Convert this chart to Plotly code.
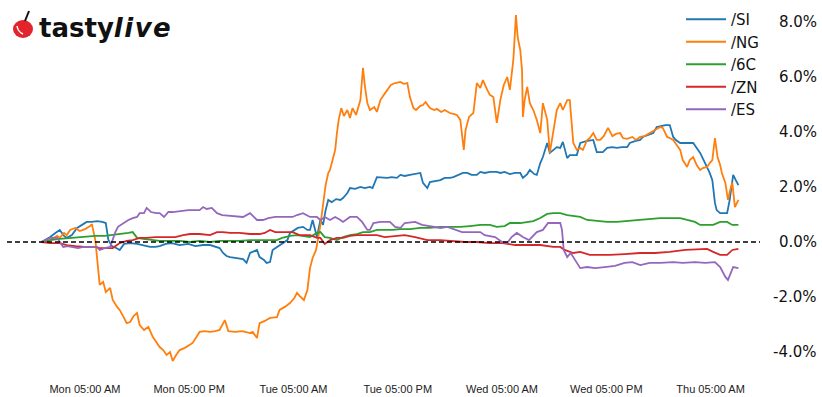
import pandas as pd
import plotly.graph_objects as go

# ---------------- data (hours since Monday 00:00, % change) ----------------
si_hours = [0, 1.0, 1.6, 2.1, 2.6, 2.9, 3.5, 4.1, 4.8, 5.2,
            5.8, 6.4, 7.0, 7.4, 7.7, 8.1, 8.6, 9.0, 9.5, 10.2,
            11.0, 11.7, 12.5, 13.1, 13.6, 14.3, 15.0, 15.9, 16.9, 17.7,
            18.6, 19.4, 20.0, 20.5, 20.9, 21.3, 21.7, 22.3, 22.8, 23.2,
            23.6, 24.0, 24.5, 24.8, 25.1, 25.6, 25.9, 26.3, 26.6, 27.1,
            27.7, 28.3, 28.6, 29.1, 29.5, 30.1, 30.6, 30.9, 31.2, 31.7,
            32.1, 32.4, 32.7, 33.0, 33.4, 33.9, 34.4, 34.7, 35.2, 35.5,
            36.1, 36.7, 37.2, 37.8, 38.1, 38.6, 39.3, 39.8, 40.3, 40.9,
            41.3, 41.8, 42.4, 42.9, 43.6, 43.9, 44.4, 44.7, 45.3, 45.9,
            46.4, 47.0, 47.4, 47.9, 48.5, 49.0, 49.5, 50.1, 50.5, 51.0,
            51.6, 52.4, 52.8, 53.3, 53.9, 54.5, 55.1, 55.4, 55.9, 56.2,
            56.7, 57.0, 57.4, 57.7, 58.2, 58.5, 58.9, 59.3, 59.7, 60.0,
            60.5, 60.8, 61.6, 62.0, 62.7, 63.5, 63.9, 64.6, 65.1, 65.7,
            66.2, 66.8, 67.4, 67.7, 68.3, 68.9, 69.2, 69.8, 70.4, 70.8,
            71.3, 71.8, 72.3, 72.7, 73.0, 73.5, 74.2, 75.0, 75.4, 75.8,
            76.2, 76.6, 76.9, 77.2, 77.5, 77.7, 78.1, 78.5, 78.9, 79.2,
            79.6, 79.9, 80.2]
si_pct = [0, 0.18, 0.33, 0.44, 0.22, 0.15, 0.25, 0.51, 0.65, 0.73,
          0.73, 0.76, 0.73, 0.69, 0.07, -0.15, -0.22, -0.29, -0.07, -0.04,
          -0.07, -0.11, -0.18, -0.18, -0.15, -0.07, -0.04, -0.11, -0.07, -0.15,
          -0.11, -0.11, -0.18, -0.22, -0.40, -0.51, -0.55, -0.58, -0.58, -0.62,
          -0.76, -0.40, -0.33, -0.29, -0.55, -0.65, -0.76, -0.73, -0.29, -0.18,
          -0.04, 0.07, 0.33, 0.44, 0.51, 0.55, 0.44, 0.44, 0.80, 0.18,
          0.80, 0.62, 1.16, 1.53, 1.45, 1.56, 1.53, 1.60, 1.78, 1.96,
          1.93, 2.00, 1.96, 2.00, 1.96, 2.36, 2.33, 2.33, 2.36, 2.33,
          2.44, 2.40, 2.44, 2.47, 2.51, 2.15, 1.96, 2.18, 2.22, 2.25,
          2.33, 2.33, 2.36, 2.44, 2.51, 2.51, 2.44, 2.44, 2.55, 2.51,
          2.55, 2.55, 2.51, 2.55, 2.47, 2.51, 2.51, 2.33, 2.47, 2.62,
          2.47, 2.44, 2.87, 3.09, 3.60, 3.24, 3.35, 3.45, 3.42, 3.64,
          3.05, 3.16, 3.16, 3.60, 3.67, 3.71, 3.27, 3.27, 3.42, 3.45,
          3.42, 3.45, 3.45, 3.60, 3.67, 3.71, 3.82, 3.89, 3.96, 4.18,
          4.22, 4.25, 4.25, 3.82, 3.71, 3.60, 3.60, 3.60, 3.42, 3.24,
          2.98, 2.73, 2.51, 2.25, 1.42, 1.16, 1.05, 1.05, 1.05, 1.53,
          2.44, 2.25, 2.07]

ng_hours = [0, 1.0, 1.8, 2.1, 2.6, 2.9, 3.3, 3.9, 4.4, 5.0,
            5.6, 5.8, 6.2, 6.5, 6.7, 7.1, 7.4, 7.9, 8.2, 8.7,
            9.0, 9.5, 9.8, 10.2, 10.6, 11.0, 11.3, 11.8, 12.3, 12.8,
            13.3, 13.6, 14.0, 14.4, 14.8, 15.1, 15.5, 15.9, 16.5, 17.1,
            17.4, 17.9, 18.2, 18.8, 19.4, 20.0, 20.5, 21.1, 21.5, 22.3,
            23.1, 24.0, 24.3, 24.8, 25.1, 25.7, 26.3, 27.1, 27.4, 28.0,
            28.6, 29.1, 29.4, 29.7, 30.2, 30.6, 30.9, 31.2, 31.6, 31.8,
            32.1, 32.4, 32.7, 33.0, 33.2, 33.5, 33.8, 34.0, 34.2, 34.5,
            34.8, 35.2, 35.5, 35.8, 36.2, 36.7, 37.0, 37.2, 37.5, 37.8,
            38.3, 38.6, 39.0, 39.4, 39.8, 40.2, 40.7, 41.3, 41.7, 42.1,
            42.4, 42.8, 43.1, 43.6, 43.9, 44.2, 44.7, 45.2, 45.5, 46.0,
            46.4, 47.0, 47.5, 47.8, 48.2, 48.4, 48.6, 48.8, 49.2, 49.7,
            50.1, 50.5, 50.8, 51.3, 51.6, 52.0, 52.4, 52.8, 53.2, 53.6,
            53.9, 54.3, 54.6, 54.8, 55.1, 55.3, 55.4, 55.6, 55.9, 56.2,
            56.6, 57.0, 57.4, 57.7, 58.2, 58.5, 58.9, 59.3, 59.7, 60.0,
            60.5, 60.8, 61.2, 61.6, 62.0, 62.3, 62.8, 63.1, 63.5, 63.9,
            64.3, 64.7, 65.2, 65.7, 66.1, 66.6, 66.9, 67.4, 68.0, 68.4,
            68.9, 69.4, 70.0, 70.6, 71.2, 71.5, 72.0, 72.3, 72.7, 73.1,
            73.5, 73.8, 74.3, 74.6, 75.0, 75.4, 75.8, 76.1, 76.6, 76.9,
            77.2, 77.5, 77.7, 77.8, 78.1, 78.3, 78.7, 79.0, 79.2, 79.5,
            79.8, 80.2]
ng_pct = [0, 0.07, 0.22, 0.15, 0.33, 0.25, 0.44, 0.51, 0.40, 0.47,
          0.58, 0.65, 0.07, -1.02, -1.56, -1.45, -1.82, -1.67, -2.11, -2.36,
          -2.47, -2.76, -2.95, -2.91, -2.69, -2.58, -3.02, -3.20, -3.09, -3.45,
          -3.67, -3.82, -3.93, -4.11, -4.00, -4.33, -4.11, -3.93, -3.85, -3.75,
          -3.67, -3.42, -3.27, -3.24, -3.27, -3.24, -3.20, -2.84, -3.24, -3.27,
          -3.24, -3.31, -3.27, -3.49, -2.95, -2.87, -2.76, -2.73, -2.47, -2.36,
          -2.22, -2.04, -1.85, -1.96, -2.11, -1.75, -0.95, -0.58, -0.29, 0.07,
          0.62, 1.35, 2.07, 2.51, 2.62, 2.98, 3.35, 3.96, 4.44, 4.87,
          4.58, 4.80, 4.51, 4.87, 4.62, 5.16, 6.33, 5.71, 5.05, 4.80,
          4.91, 4.73, 5.16, 5.35, 5.53, 5.71, 5.78, 5.82, 5.75, 5.78,
          5.27, 4.87, 4.80, 4.95, 4.98, 5.09, 4.87, 4.80, 4.84, 4.73,
          4.80, 4.69, 4.65, 4.62, 4.44, 3.89, 3.35, 4.07, 4.55, 4.69,
          5.78, 5.60, 5.89, 5.53, 5.35, 5.27, 4.33, 5.16, 5.71, 6.00,
          5.53, 6.62, 8.25, 7.45, 6.98, 6.25, 4.55, 5.16, 5.64, 5.05,
          4.80, 4.44, 3.96, 5.05, 4.44, 3.24, 3.96, 4.80, 5.05, 4.80,
          5.16, 5.16, 3.60, 3.35, 3.42, 3.35, 3.71, 3.78, 3.96, 3.71,
          3.71, 3.85, 4.15, 3.85, 3.93, 3.96, 3.78, 3.75, 3.82, 3.71,
          3.82, 3.85, 3.96, 4.07, 4.18, 4.15, 3.82, 3.78, 3.71, 3.53,
          3.35, 2.98, 2.73, 2.98, 3.09, 2.80, 2.62, 2.69, 2.73, 2.87,
          2.98, 3.78, 3.35, 3.09, 2.80, 2.51, 2.15, 1.53, 1.82, 2.15,
          1.27, 1.53]

c6_hours = [0, 1.0, 2.1, 3.3, 4.1, 5.0, 6.2, 7.3, 8.2, 9.0,
            10.0, 10.5, 11.0, 11.7, 12.5, 13.6, 14.8, 15.9, 17.1, 18.2,
            19.4, 20.5, 21.7, 22.8, 24.0, 25.1, 26.3, 27.1, 27.7, 28.6,
            29.4, 30.2, 30.9, 31.7, 32.1, 32.6, 33.2, 34.0, 34.7, 35.5,
            36.3, 37.0, 37.8, 38.6, 39.5, 40.4, 41.3, 42.4, 43.6, 44.7,
            45.9, 47.0, 48.2, 49.3, 50.5, 51.6, 52.4, 53.3, 53.9, 55.1,
            55.9, 56.6, 57.4, 58.2, 58.9, 59.7, 60.5, 61.2, 62.0, 62.8,
            63.9, 65.1, 66.2, 67.4, 68.9, 70.0, 71.2, 72.3, 73.5, 74.3,
            75.2, 75.8, 76.6, 77.3, 78.1, 78.9, 79.5, 80.2]
c6_pct = [0, 0.07, 0.11, 0.15, 0.15, 0.18, 0.22, 0.22, 0.25, 0.29,
          0.33, 0.36, 0.15, 0.11, 0.07, 0.04, 0.04, 0.04, 0, 0.04,
          0, 0.04, 0.04, 0.04, 0.07, 0.07, 0.07, 0.07, 0.15, 0.22,
          0.25, 0.22, 0.18, 0.33, 0.36, 0.18, 0.15, 0.07, 0.18, 0.25,
          0.29, 0.36, 0.36, 0.44, 0.44, 0.44, 0.47, 0.47, 0.51, 0.51,
          0.55, 0.55, 0.55, 0.58, 0.62, 0.62, 0.55, 0.58, 0.69, 0.69,
          0.73, 0.76, 0.87, 1.02, 1.05, 1.05, 0.98, 0.95, 0.91, 0.80,
          0.76, 0.73, 0.73, 0.76, 0.80, 0.84, 0.87, 0.87, 0.87, 0.80,
          0.73, 0.62, 0.62, 0.62, 0.73, 0.73, 0.62, 0.62]

zn_hours = [0, 1.0, 2.1, 2.9, 3.9, 5.0, 6.2, 6.7, 7.5, 8.2,
            9.0, 9.8, 10.5, 11.3, 12.1, 13.1, 14.2, 15.4, 16.3, 17.1,
            18.2, 19.4, 20.2, 20.9, 21.7, 22.8, 24.0, 25.1, 25.7, 26.3,
            26.9, 28.0, 28.9, 29.7, 30.9, 31.7, 32.1, 32.6, 33.2, 34.0,
            34.7, 35.5, 36.3, 37.2, 38.6, 39.5, 40.7, 41.8, 43.0, 44.4,
            45.9, 47.4, 48.7, 50.1, 51.6, 53.1, 54.5, 55.9, 57.4, 58.9,
            59.7, 60.2, 61.2, 62.0, 63.1, 64.3, 65.4, 67.1, 68.9, 70.6,
            72.3, 74.1, 75.8, 76.6, 77.3, 78.1, 78.9, 79.5, 80.2]
zn_pct = [0, -0.04, -0.04, -0.11, -0.15, -0.18, -0.18, -0.22, -0.22, -0.22,
          -0.04, 0.04, 0.07, 0.15, 0.15, 0.18, 0.18, 0.18, 0.25, 0.29,
          0.29, 0.25, 0.36, 0.36, 0.33, 0.33, 0.29, 0.29, 0.33, 0.44,
          0.36, 0.36, 0.36, 0.25, 0.25, 0.15, 0.15, -0.07, 0.07, 0.15,
          0.15, 0.22, 0.25, 0.25, 0.25, 0.18, 0.22, 0.25, 0.18, 0.07,
          0.07, 0.04, 0, 0, -0.04, -0.04, -0.11, -0.11, -0.11, -0.18,
          -0.18, -0.29, -0.40, -0.36, -0.47, -0.47, -0.47, -0.44, -0.40, -0.40,
          -0.36, -0.29, -0.25, -0.25, -0.36, -0.47, -0.47, -0.29, -0.25]

es_hours = [0, 1.0, 1.8, 2.5, 3.0, 3.6, 4.2, 4.8, 5.6, 6.4,
            6.7, 7.3, 7.9, 8.1, 8.5, 8.8, 9.4, 10.0, 10.5, 11.0,
            11.3, 11.8, 12.1, 12.6, 13.2, 13.6, 14.1, 14.6, 15.1, 15.9,
            16.9, 17.7, 18.2, 18.6, 19.0, 19.6, 20.2, 20.8, 21.7, 22.5,
            23.2, 24.0, 24.8, 25.5, 26.1, 26.9, 27.8, 28.9, 29.4, 30.1,
            30.9, 31.7, 32.1, 32.6, 33.2, 33.8, 34.4, 34.7, 35.5, 36.3,
            36.9, 37.5, 37.8, 38.2, 39.0, 40.1, 40.7, 41.3, 41.8, 43.0,
            43.8, 44.7, 45.9, 46.7, 47.6, 48.4, 49.3, 50.5, 51.0, 52.2,
            53.0, 53.6, 54.1, 54.7, 55.4, 56.1, 57.0, 57.7, 58.3, 59.1,
            59.7, 59.9, 60.1, 60.5, 60.9, 61.4, 62.0, 62.8, 63.7, 64.8,
            66.0, 67.1, 68.0, 68.9, 70.0, 71.2, 72.7, 73.8, 75.2, 76.4,
            77.5, 78.1, 78.7, 79.0, 79.6, 80.2]
es_pct = [0, 0.15, 0.15, -0.18, -0.15, -0.18, -0.22, -0.18, -0.18, -0.18,
          -0.29, -0.22, -0.18, 0, 0.36, 0.55, 0.69, 0.80, 0.87, 0.91,
          1.05, 1.05, 1.24, 1.09, 1.05, 1.05, 0.91, 1.09, 1.09, 1.13,
          1.16, 1.16, 1.16, 1.27, 1.20, 1.24, 1.05, 0.98, 0.95, 0.91,
          0.91, 1.05, 0.80, 0.80, 0.87, 0.91, 0.91, 0.91, 0.98, 1.05,
          0.91, 0.91, 0.80, 0.91, 0.80, 0.91, 0.80, 0.73, 0.91, 0.91,
          0.73, 0.44, 0.44, 0.69, 0.73, 0.73, 0.55, 0.51, 0.69, 0.73,
          0.62, 0.58, 0.51, 0.55, 0.44, 0.36, 0.36, 0.36, 0.25, 0.18,
          0, -0.04, 0.18, 0.33, 0.18, 0.07, 0.36, 0.44, 0.69, 0.69,
          0.69, 0.44, -0.29, -0.55, -0.40, -0.65, -0.95, -0.91, -0.95, -0.91,
          -0.87, -0.76, -0.73, -0.84, -0.76, -0.76, -0.73, -0.76, -0.73, -0.76,
          -0.73, -0.91, -1.27, -1.38, -0.91, -0.95]

series_names = ["/SI", "/NG", "/6C", "/ZN", "/ES"]
series_colors = ["#1f77b4", "#ff7f0e", "#2ca02c", "#d62728", "#9467bd"]
series_hours = [si_hours, ng_hours, c6_hours, zn_hours, es_hours]
series_pct = [si_pct, ng_pct, c6_pct, zn_pct, es_pct]

x_tick_hours = [5, 17, 29, 41, 53, 65, 77]
y_tick_values = [-4, -2, 0, 2, 4, 6, 8]
y_tick_labels = ["-4.0%", "-2.0%", "0.0%", "2.0%", "4.0%", "6.0%", "8.0%"]

base = pd.Timestamp("2024-01-08 00:00")  # a Monday


def to_time(hours):
    return [base + pd.Timedelta(hours=h) for h in hours]


# ---------------- layout geometry (pixels) ----------------
W, H = 822, 397
ML, MR, MT, MB = 40, 77, 10, 32
PW, PH = W - ML - MR, H - MT - MB


def px(x):
    return (x - ML) / PW


def py(y):
    return (H - MB - y) / PH


fig = go.Figure()
for name, color, hrs, vals in zip(series_names, series_colors, series_hours, series_pct):
    fig.add_trace(go.Scatter(
        x=to_time(hrs), y=vals, mode="lines", name=name,
        line=dict(color=color, width=1.8), hoverinfo="skip",
    ))

x_start = base + pd.Timedelta(hours=-0.17)
x_end = base + pd.Timedelta(hours=80.96)

fig.update_layout(
    width=W, height=H,
    margin=dict(l=ML, r=MR, t=MT, b=MB, pad=0, autoexpand=False),
    paper_bgcolor="white", plot_bgcolor="white",
    font=dict(family="DejaVu Sans", size=15, color="#111111"),
    xaxis=dict(
        range=[x_start, x_end], showgrid=False, zeroline=False, showline=False,
        automargin=False,
        tickvals=to_time(x_tick_hours), tickformat="%a %I:%M %p",
        ticks="outside", ticklen=14, tickcolor="rgba(0,0,0,0)",
        tickfont=dict(family="Liberation Sans", size=11, color="#222222"),
    ),
    yaxis=dict(
        range=[-4.473, 8.436], showgrid=False, zeroline=False, showline=False,
        showticklabels=False, ticks="", automargin=False,
    ),
    showlegend=True,
    legend=dict(
        x=px(681), y=py(3), xanchor="left", yanchor="top",
        bgcolor="rgba(0,0,0,0)", borderwidth=0,
        font=dict(family="DejaVu Sans", size=15, color="#111111"),
        itemwidth=40,
    ),
)

# dashed zero line
fig.add_shape(type="line", xref="paper", yref="y", x0=px(7), x1=px(760), y0=0, y1=0,
              line=dict(color="black", width=1.4, dash="5px,3px"))

# right-aligned y tick labels
for v, lab in zip(y_tick_values, y_tick_labels):
    fig.add_annotation(xref="paper", yref="y", x=px(819), y=v, text=lab,
                       showarrow=False, xanchor="right", yanchor="middle",
                       font=dict(family="DejaVu Sans", size=15, color="#111111"))

# logo: cherry + wordmark
fig.add_shape(type="circle", xref="paper", yref="paper",
              x0=px(13), x1=px(33), y0=py(38), y1=py(20),
              fillcolor="#e3242b", line=dict(width=0))
fig.add_shape(type="path", xref="paper", yref="paper",
              path=f"M {px(17)},{py(26)} Q {px(18)},{py(32)} {px(23)},{py(34)}",
              line=dict(color="white", width=1.5))
fig.add_shape(type="line", xref="paper", yref="paper",
              x0=px(25), y0=py(21), x1=px(29), y1=py(11),
              line=dict(color="#111111", width=2))
fig.add_annotation(xref="paper", yref="paper", x=px(37), y=py(28),
                   xanchor="left", yanchor="middle", showarrow=False,
                   text="<b>tasty<i><span style='letter-spacing:1.5px'>live</span></i></b>",
                   font=dict(family="DejaVu Sans", size=26, color="#111111"))

fig.write_html("out.html", config={"displayModeBar": False},
               post_script="document.body.style.margin='0';")
